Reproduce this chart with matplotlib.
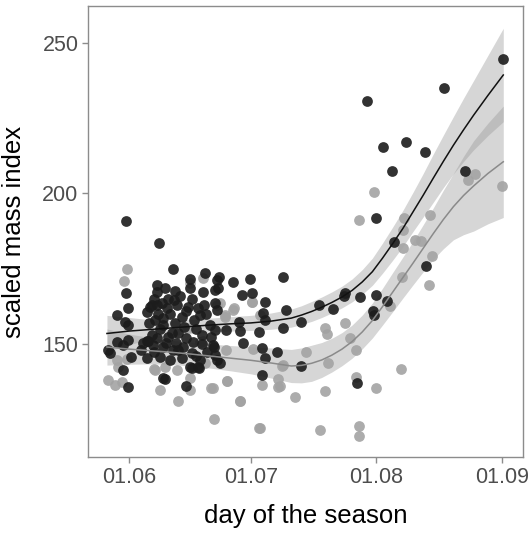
import matplotlib
matplotlib.use("Agg")
import matplotlib.pyplot as plt

plt.rcParams['font.family'] = ['Liberation Sans', 'DejaVu Sans']

# day 0 = 1 June
tick_days = [0, 30, 61, 92]
tick_labels = ['01.06', '01.07', '01.08', '01.09']

black_days = [-0.9, -0.9, -0.2, -3.1, -1.1, -0.2, -3.1, -0.2, -5.2, -4.8, -1.5, 0.4, -1.5, -0.2,
              7.4, 10.7, 15.0, 18.7, 6.9, 6.9, 8.8, 11.3, 15.0, 18.3, 21.6, 21.2,
              6.8, 9.2, 11.7, 14.6, 17.5, 19.9, 21.2, 20.3, 20.7, 19.1, 21.6,
              6.3, 8.4, 8.4, 11.3, 12.1, 9.6, 6.8, 5.9, 8.4, 10.9, 13.3, 15.8, 15.4, 12.9,
              10.1, 7.6, 15.0, 17.1, 17.5, 8.8, 14.0, 4.7, 5.1,
              4.5, 5.5, 6.2, 7.0, 8.0, 9.5, 10.0, 11.0, 12.5, 13.0, 14.0, 15.5, 16.0, 17.0,
              18.5, 19.0, 5.0, 5.5, 4.3, 3.5, 11.5, 13.5, 16.5, 18.0, 7.5, 9.0, 12.0, 14.0,
              10.5, 16.5, 18.0, 4.5, 6.0, 3.0, 8.4, 15.5, 17.0,
              22.2, 25.7, 29.8, 37.9, 22.0, 27.8, 30.2, 33.5, 21.2, 21.6, 33.1, 33.5, 38.7,
              27.2, 24.0, 27.3, 32.1, 37.9, 20.8, 21.2, 22.4, 28.0, 32.7, 33.5, 36.5, 32.7,
              42.3, 42.3, 46.9, 50.2, 53.1, 53.3, 57.0, 60.9, 60.1, 60.3, 63.7, 56.1,
              65.4, 73.3, 60.9, 64.8, 62.5, 68.3, 72.9, 58.6, 77.7, 82.9, 92.3]
black_vals = [190.8, 166.8, 161.8, 159.6, 157.4, 156.3, 150.8, 151.3, 148.0, 146.9, 149.7, 145.8, 141.4, 135.8,
              183.4, 174.8, 171.5, 173.5, 169.6, 167.4, 168.5, 167.7, 168.5, 167.4, 171.2, 167.9,
              162.9, 161.8, 162.9, 162.4, 159.6, 156.3, 154.6, 152.4, 149.7, 147.4, 144.7,
              158.0, 158.5, 156.3, 156.9, 153.6, 152.4, 151.9, 149.7, 149.1, 148.0, 149.1, 150.8, 146.9, 145.3,
              144.7, 145.8, 142.5, 141.9, 144.7, 138.3, 136.0, 151.0, 162.4,
              160.5, 163.0, 165.0, 160.0, 163.5, 165.0, 160.0, 164.5, 166.0, 159.0, 161.0, 165.0, 158.0, 162.0,
              163.0, 160.0, 157.0, 153.0, 151.0, 150.5, 150.5, 155.5, 155.0, 153.0, 155.0, 150.5, 148.0, 152.0,
              153.5, 146.0, 150.0, 145.5, 147.5, 148.0, 138.6, 142.0, 142.5,
              172.1, 170.7, 171.5, 172.1, 168.5, 166.3, 167.0, 164.0, 163.7, 161.3, 160.2, 158.0, 161.3,
              157.4, 154.6, 154.4, 154.1, 155.2, 149.1, 146.3, 143.6, 150.2, 148.6, 145.3, 147.4, 139.7,
              157.4, 142.7, 162.9, 161.5, 166.0, 167.0, 165.5, 166.3, 161.0, 159.6, 164.3, 137.0,
              183.8, 176.0, 191.9, 207.5, 215.3, 217.1, 213.8, 230.8, 234.9, 207.4, 244.5]

gray_days = [-0.6, -1.2, -0.6, -3.1, -2.7, -5.2, -1.9, -3.5, 6.3, 7.6, 6.1, 8.8, 11.7, 15.0,
             20.3, 15.0, 12.1, 20.9, 24.2, 27.3, 32.3, 15.0, 18.3, 25.9, 23.6, 30.4, 21.6,
             14.4, 18.3, 18.7, 24.0, 30.6, 37.6, 22.4, 25.7, 23.7, 30.2, 32.3, 17.5, 38.0,
             20.6, 32.7, 36.8, 36.8, 27.3, 32.1, 24.2,
             60.5, 56.8, 67.7, 67.5, 74.2, 67.5, 70.5, 72.0, 74.8, 67.4, 73.9, 83.6, 85.4, 92.0,
             64.4, 53.3, 48.2, 48.7, 54.5, 55.9, 43.6, 49.1, 56.0, 37.2, 40.9, 48.3, 60.8,
             67.0, 47.1, 56.6, 56.6]
gray_vals = [174.8, 170.9, 144.9, 144.7, 142.5, 138.0, 137.5, 136.5, 141.4, 134.7, 141.6, 142.5, 141.4, 134.7,
             135.5, 138.6, 131.2, 125.0, 137.8, 131.2, 122.0, 170.1, 171.8, 161.8, 159.6, 163.9, 162.9,
             155.2, 151.0, 143.6, 148.0, 148.2, 142.8, 163.5, 161.3, 159.1, 164.0, 159.6, 150.8, 143.0,
             135.3, 136.4, 138.3, 135.8, 131.2, 122.0, 137.8,
             200.5, 191.2, 191.7, 187.9, 192.8, 181.8, 184.4, 184.2, 179.2, 172.3, 169.6, 204.4, 206.4, 202.5,
             162.6, 157.1, 155.2, 153.2, 151.9, 148.0, 147.4, 143.8, 138.9, 136.0, 132.3, 134.4, 135.5,
             141.7, 121.5, 122.9, 119.6]

# smoother and its band
fit_days = [-5.5, 0, 5, 10, 15, 20, 25, 30, 35, 40, 42.5, 45, 47.5, 50, 52.5, 55, 57.5, 60,
            62.5, 65, 67.5, 70, 72.5, 75, 77.5, 80, 82.5, 85, 88.5, 92.3]
black_fit = [153.5, 154.3, 154.8, 155.3, 155.8, 156.3, 156.7, 157.0, 157.6, 158.6, 159.6, 160.8, 162.2, 163.8,
             165.6, 167.8, 170.6, 174.0, 178.5, 183.3, 188.3, 193.8, 199.3, 205.0, 210.6, 216.0, 221.1, 226.0,
             232.5, 239.3]
black_hw = [6.0, 4.5, 3.3, 2.6, 2.4, 2.3, 2.4, 2.5, 2.7, 3.0, 3.1, 3.3, 3.4, 3.5, 3.6, 3.8, 4.1, 4.5,
            5.0, 5.5, 6.0, 6.5, 7.2, 8.0, 8.7, 9.5, 10.5, 11.5, 13.3, 15.5]
gray_fit = [149.0, 148.3, 147.8, 147.3, 146.7, 146.0, 145.3, 144.6, 143.7, 142.7, 142.9, 143.6, 144.7, 146.3,
            148.3, 150.8, 154.0, 157.8, 162.4, 167.2, 172.0, 176.8, 181.7, 186.6, 191.3, 195.6, 199.3, 202.5,
            206.6, 210.5]
gray_hw = [6.0, 5.0, 4.4, 4.0, 4.0, 4.0, 4.2, 4.5, 5.0, 5.5, 5.8, 6.0, 5.8, 5.6, 5.5, 5.5, 5.6, 5.8,
           6.1, 6.5, 6.8, 7.2, 7.8, 8.5, 9.7, 11.0, 13.0, 15.0, 16.7, 18.5]

fig = plt.figure(figsize=(5.31, 5.38), dpi=100)
ax = fig.add_axes([0.1663, 0.1506, 0.8181, 0.8382])

for fit, hw in ((black_fit, black_hw), (gray_fit, gray_hw)):
    lo = [f - h for f, h in zip(fit, hw)]
    hi = [f + h for f, h in zip(fit, hw)]
    ax.fill_between(fit_days, lo, hi, color='#999999', alpha=0.4, lw=0, zorder=1)

ax.scatter(gray_days, gray_vals, s=60, color='#a3a3a3', alpha=0.9, lw=0, zorder=2)
ax.scatter(black_days, black_vals, s=60, color='#1c1c1c', alpha=0.9, lw=0, zorder=3)

ax.plot(fit_days, black_fit, color='#111111', lw=1.1, zorder=4)
ax.plot(fit_days, gray_fit, color='#8a8a8a', lw=1.1, zorder=4)

ax.set_xlim(-10.1, 97.1)
ax.set_ylim(112.5, 262.2)
ax.set_xticks(tick_days)
ax.set_xticklabels(tick_labels)
ax.set_yticks([150, 200, 250])

for sp in ax.spines.values():
    sp.set_color('#8c8c8c')
    sp.set_linewidth(1.0)
ax.tick_params(axis='both', colors='#8c8c8c', length=4, width=1.0,
               labelsize=15.5, labelcolor='#4d4d4d', pad=3)

ax.set_xlabel('day of the season', fontsize=18.5, color='black', labelpad=12)
ax.set_ylabel('scaled mass index', fontsize=18.5, color='black', labelpad=12)

fig.savefig('out.png', dpi=100)
